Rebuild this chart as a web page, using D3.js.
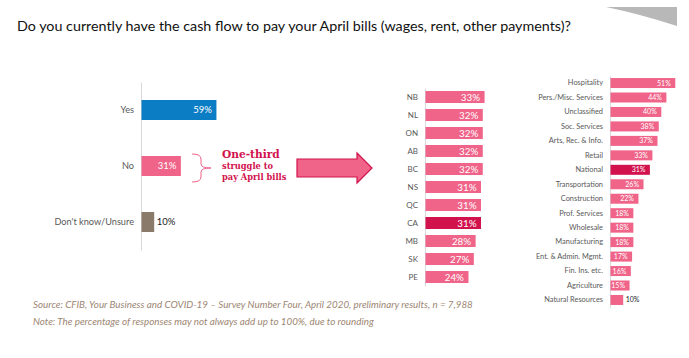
<!DOCTYPE html>
<html><head><meta charset="utf-8">
<script src="https://cdn.jsdelivr.net/npm/d3@7/dist/d3.min.js"></script>
<style>
body{margin:0;background:#fff;}
svg{display:block;font-family:Lato,"Open Sans",sans-serif;}
</style></head>
<body><div id="chart"></div>
<script>
// ---- data ----
const title = "Do you currently have the cash flow to pay your April bills (wages, rent, other payments)?";
const answerCats = ["Yes", "No", "Don't know/Unsure"];
const answerVals = [59, 31, 10];
const provinceCats = ["NB","NL","ON","AB","BC","NS","QC","CA","MB","SK","PE"];
const provinceVals = [33,32,32,32,32,31,31,31,28,27,24];
const sectorCats = ["Hospitality","Pers./Misc. Services","Unclassified","Soc. Services","Arts, Rec. & Info.","Retail","National","Transportation","Construction","Prof. Services","Wholesale","Manufacturing","Ent. & Admin. Mgmt.","Fin. Ins. etc.","Agriculture","Natural Resources"];
const sectorVals = [51,44,40,38,37,33,31,26,22,18,18,18,17,16,15,10];
const calloutLines = ["One-third","struggle to","pay April bills"];
const sourceNote = "Source: CFIB, Your Business and COVID-19 \u2013 Survey Number Four, April 2020, preliminary results, n = 7,988";
const roundNote = "Note: The percentage of responses may not always add up to 100%, due to rounding";

const W = 689, H = 358;
const PINK = "#f06489", CRIMSON = "#d2124d", BLUE = "#0b7dc4", BROWN = "#8a7a6a";
const FONT = "Lato, 'Open Sans', sans-serif";
const svg = d3.select("#chart").append("svg").attr("width", W).attr("height", H);

// title + decoration
svg.append("path").attr("d","M606,7 L677,7 L677,26 Q640,14 606,7 Z").attr("fill","#b8b8b8");
svg.append("text").attr("x",17).attr("y",31).attr("font-size",14.3).attr("fill","#111").text(title);

function barChart(opts){
  const {cats, vals, yRange, x0, pxPer, bandPx, step, colorFn, labelSize, valSize, valOutsideBelow} = opts;
  const pi = 1 - bandPx/step;
  const y = d3.scaleBand().domain(cats).range(yRange).paddingInner(pi).paddingOuter(pi/2);
  const x = d3.scaleLinear().domain([0,100]).range([x0, x0 + 100*pxPer]);
  const g = svg.append("g");
  const ax = g.append("g").attr("transform",`translate(${x0},0)`)
    .call(d3.axisLeft(y).tickSize(0).tickSizeOuter(0).tickPadding(opts.pad||7));
  ax.attr("font-family", FONT);
  ax.select(".domain").attr("stroke","#d9d9d9");
  ax.selectAll("text").attr("font-size",labelSize).attr("fill","#595959");
  const data = cats.map((c,i)=>({c, v: vals[i]}));
  g.selectAll("rect").data(data).join("rect")
    .attr("x", x(0)+0.5).attr("y", d=>y(d.c)).attr("width", d=>x(d.v)-x(0))
    .attr("height", y.bandwidth()).attr("fill", d=>colorFn(d.c));
  g.selectAll("text.val").data(data).join("text").attr("class","val")
    .attr("x", d=> d.v <= valOutsideBelow ? x(d.v)+3 : x(d.v)-4)
    .attr("y", d=>y(d.c)+y.bandwidth()/2).attr("dy","0.36em")
    .attr("text-anchor", d=> d.v <= valOutsideBelow ? "start" : "end")
    .attr("font-size", valSize)
    .attr("fill", d=> d.v <= valOutsideBelow ? "#222" : "#fff")
    .text(d=>d.v+"%");
  return {x,y};
}

// left chart
barChart({cats:answerCats, vals:answerVals, yRange:[82,250], x0:141, pxPer:1.27, bandPx:20, step:56,
  colorFn:c=> c==="Yes"?BLUE : c==="No"?PINK : BROWN, labelSize:9.2, valSize:9.5, valOutsideBelow:10});
// middle chart
barChart({cats:provinceCats, vals:provinceVals, yRange:[88,286], x0:425, pxPer:1.79, bandPx:12, step:18,
  colorFn:c=> c==="CA"?CRIMSON:PINK, labelSize:8, valSize:9.8, valOutsideBelow:0});
// right chart
barChart({cats:sectorCats, vals:sectorVals, yRange:[75.8,307.2], x0:610, pxPer:1.27, bandPx:10, step:14.47,
  colorFn:c=> c==="National"?CRIMSON:PINK, labelSize:7.4, valSize:7, valOutsideBelow:10});

// brace
svg.append("path").attr("d","M192,154 Q201,154 201,159 L201,164 Q201,168 211,168 Q201,168 201,172 L201,177 Q201,182 192,182")
  .attr("fill","none").attr("stroke",PINK).attr("stroke-width",1);
// callout text
const ct = svg.append("g").attr("font-family","'DejaVu Serif Condensed','DejaVu Serif',serif").attr("font-weight","bold").attr("fill",CRIMSON);
ct.append("text").attr("x",222).attr("y",158).attr("font-size",11.8).text(calloutLines[0]);
ct.append("text").attr("x",222).attr("y",169).attr("font-size",9.2).text(calloutLines[1]);
ct.append("text").attr("x",222).attr("y",180).attr("font-size",9.2).text(calloutLines[2]);
// arrow
svg.append("path").attr("d","M297,159 L357,159 L357,153 L372,168 L357,183 L357,177 L297,177 Z")
  .attr("fill",PINK).attr("stroke",CRIMSON).attr("stroke-width",1.2);

// footer
const ft = svg.append("g").attr("font-style","italic").attr("font-size",9.8).attr("fill","#9c8672");
ft.append("text").attr("x",33).attr("y",308).text(sourceNote);
ft.append("text").attr("x",33).attr("y",325).text(roundNote);
</script></body></html>
